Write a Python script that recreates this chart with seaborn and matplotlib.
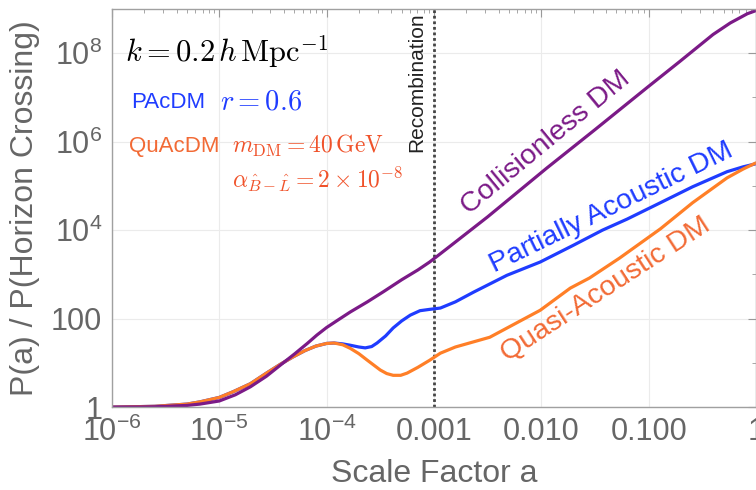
import matplotlib
matplotlib.use('Agg')
import matplotlib.pyplot as plt
import matplotlib.ticker as mticker
import numpy as np
import pandas as pd
import seaborn as sns

# values, stored as log10(a) and log10(P/P_hc)
early_loga = [-6.0, -5.6, -5.3, -5.18, -5.0, -4.87, -4.71, -4.56, -4.43, -4.31, -4.2, -4.1, -4.0, -3.93]
early_logp = [0.0, 0.02, 0.07, 0.12, 0.22, 0.35, 0.53, 0.77, 0.97, 1.14, 1.28, 1.38, 1.44, 1.45]

cdm_loga = [-6.0, -5.6, -5.3, -5.18, -5.0, -4.85, -4.71, -4.56, -4.41, -4.3, -4.18, -4.09, -4.0, -3.9,
            -3.78, -3.62, -3.47, -3.3, -3.15, -3.04, -2.88, -2.5, -1.95, -1.5, -1.015, -0.71, -0.40,
            -0.24, -0.08, 0.0]
cdm_logp = [0.0, 0.01, 0.04, 0.07, 0.14, 0.28, 0.46, 0.70, 0.99, 1.20, 1.44, 1.63, 1.80, 1.96,
            2.15, 2.38, 2.61, 2.88, 3.10, 3.28, 3.58, 4.30, 5.40, 6.27, 7.22, 7.81, 8.42,
            8.68, 8.89, 8.96]

pac_loga = early_loga + [-3.85, -3.78, -3.70, -3.64, -3.58, -3.53, -3.45, -3.38, -3.30, -3.22, -3.13,
                         -3.04, -2.94, -2.80, -2.63, -2.32, -2.01, -1.70, -1.43, -1.20, -0.89, -0.59,
                         -0.27, -0.12, 0.0]
pac_logp = early_logp + [1.43, 1.40, 1.36, 1.34, 1.37, 1.45, 1.61, 1.79, 1.95, 2.08, 2.18,
                         2.21, 2.24, 2.38, 2.60, 2.98, 3.28, 3.66, 4.00, 4.25, 4.62, 4.98,
                         5.32, 5.43, 5.50]

quac_loga = early_loga + [-3.85, -3.78, -3.70, -3.62, -3.56, -3.50, -3.44, -3.38, -3.31, -3.25, -3.15,
                          -3.04, -2.94, -2.80, -2.48, -2.01, -1.73, -1.55, -1.27, -0.89, -0.59,
                          -0.27, -0.12, 0.0]
quac_logp = early_logp + [1.41, 1.33, 1.21, 1.06, 0.95, 0.84, 0.76, 0.72, 0.72, 0.77, 0.90,
                          1.06, 1.22, 1.36, 1.58, 2.19, 2.69, 2.92, 3.37, 4.03, 4.62,
                          5.18, 5.38, 5.52]

x_ticks = [1e-6, 1e-5, 1e-4, 1e-3, 1e-2, 1e-1, 1]
x_labels = [r'$10^{-6}$', r'$10^{-5}$', r'$10^{-4}$', '0.001', '0.010', '0.100', '1']
y_ticks = [1, 1e2, 1e4, 1e6, 1e8]
y_labels = ['1', '100', r'$10^{4}$', r'$10^{6}$', r'$10^{8}$']
a_recomb = 1e-3

colors = {'PAcDM': '#1f3cff', 'QuAcDM': '#ff7f27', 'CDM': '#7b1a87'}
grey = '#666666'

sns.set_style('white')
plt.rcParams['font.family'] = ['Liberation Sans', 'DejaVu Sans']
plt.rcParams['mathtext.fontset'] = 'custom'
plt.rcParams['mathtext.rm'] = 'Liberation Sans'
plt.rcParams['mathtext.it'] = 'Liberation Sans:italic'
plt.rcParams['mathtext.bf'] = 'Liberation Sans:bold'

frames = []
for name, la, lp in [('PAcDM', pac_loga, pac_logp), ('QuAcDM', quac_loga, quac_logp), ('CDM', cdm_loga, cdm_logp)]:
    frames.append(pd.DataFrame({'a': 10 ** np.array(la), 'P': 10 ** np.array(lp), 'model': name}))
df = pd.concat(frames, ignore_index=True)

fig = plt.figure(figsize=(7.56, 4.90), dpi=100)
ax = fig.add_axes([0.148, 0.169, 0.852, 0.813])
ax.set(xscale='log', yscale='log')

sns.lineplot(data=df, x='a', y='P', hue='model', hue_order=['PAcDM', 'QuAcDM', 'CDM'],
             palette=colors, lw=2.3, legend=False, sort=False, estimator=None, ax=ax)

ax.set_xlim(1e-6, 1)
ax.set_ylim(1, 1e9)

ax.axvline(a_recomb, color='#444444', lw=2, ls=(0, (1, 1)), zorder=1)
ax.text(0.00085, 0.99, 'Recombination', rotation=90, ha='right', va='top', fontsize=15,
        color='#222222', transform=ax.get_xaxis_transform())

# ticks / grid
ax.xaxis.set_major_locator(mticker.FixedLocator(x_ticks))
ax.xaxis.set_major_formatter(mticker.FixedFormatter(x_labels))
ax.xaxis.set_minor_locator(mticker.LogLocator(base=10, subs=np.arange(2, 10), numticks=20))
ax.xaxis.set_minor_formatter(mticker.NullFormatter())
ax.yaxis.set_major_locator(mticker.FixedLocator(y_ticks))
ax.yaxis.set_major_formatter(mticker.FixedFormatter(y_labels))
ax.yaxis.set_minor_locator(mticker.FixedLocator([10, 1e3, 1e5, 1e7]))
ax.yaxis.set_minor_formatter(mticker.NullFormatter())

ax.tick_params(which='both', direction='in', top=True, right=True, colors='#999999',
               labelcolor=grey, labelsize=22)
ax.tick_params(which='major', length=6, width=0.8)
ax.tick_params(which='minor', length=3, width=0.6)
ax.tick_params(axis='x', pad=7)
ax.tick_params(axis='y', pad=7)
ax.grid(True, which='major', color='#ebebeb', lw=0.8)
for s in ax.spines.values():
    s.set_color('#a0a0a0')
    s.set_linewidth(1)

ax.set_xlabel('Scale Factor a', fontsize=23, color=grey, labelpad=8)
ax.set_ylabel('P(a) / P(Horizon Crossing)', fontsize=23, color=grey, labelpad=8)

# annotations
ax.text(0.02, 0.892, r'$k = 0.2\,h\,\mathrm{Mpc}^{-1}$', transform=ax.transAxes, fontsize=22,
        color='black', va='center', math_fontfamily='cm')
ax.text(0.03, 0.765, 'PAcDM', transform=ax.transAxes, fontsize=16, color=colors['PAcDM'], va='center')
ax.text(0.168, 0.765, r'$r = 0.6$', transform=ax.transAxes, fontsize=20.5, color=colors['PAcDM'],
        va='center', math_fontfamily='cm')
ax.text(0.027, 0.655, 'QuAcDM', transform=ax.transAxes, fontsize=16, color='#f26a35', va='center')
ax.text(0.186, 0.655, r'$m_{\mathrm{DM}} = 40\,\mathrm{GeV}$', transform=ax.transAxes, fontsize=17,
        color='#f0522a', va='center', math_fontfamily='cm')
ax.text(0.186, 0.572, r'$\alpha_{\hat{B}-\hat{L}} = 2\times10^{-8}$', transform=ax.transAxes, fontsize=17,
        color='#f0522a', va='center', math_fontfamily='cm')

ax.text(10 ** -1.956, 10 ** 5.97, 'Collisionless DM', rotation=39.5, rotation_mode='anchor',
        ha='center', va='center', fontsize=20.5, color=colors['CDM'])
ax.text(10 ** -1.35, 10 ** 4.50, 'Partially Acoustic DM', rotation=26, rotation_mode='anchor',
        ha='center', va='center', fontsize=20.5, color=colors['PAcDM'])
ax.text(10 ** -1.40, 10 ** 2.65, 'Quasi-Acoustic DM', rotation=33, rotation_mode='anchor',
        ha='center', va='center', fontsize=20.5, color='#f26a35')

fig.savefig('out.png', dpi=100)
